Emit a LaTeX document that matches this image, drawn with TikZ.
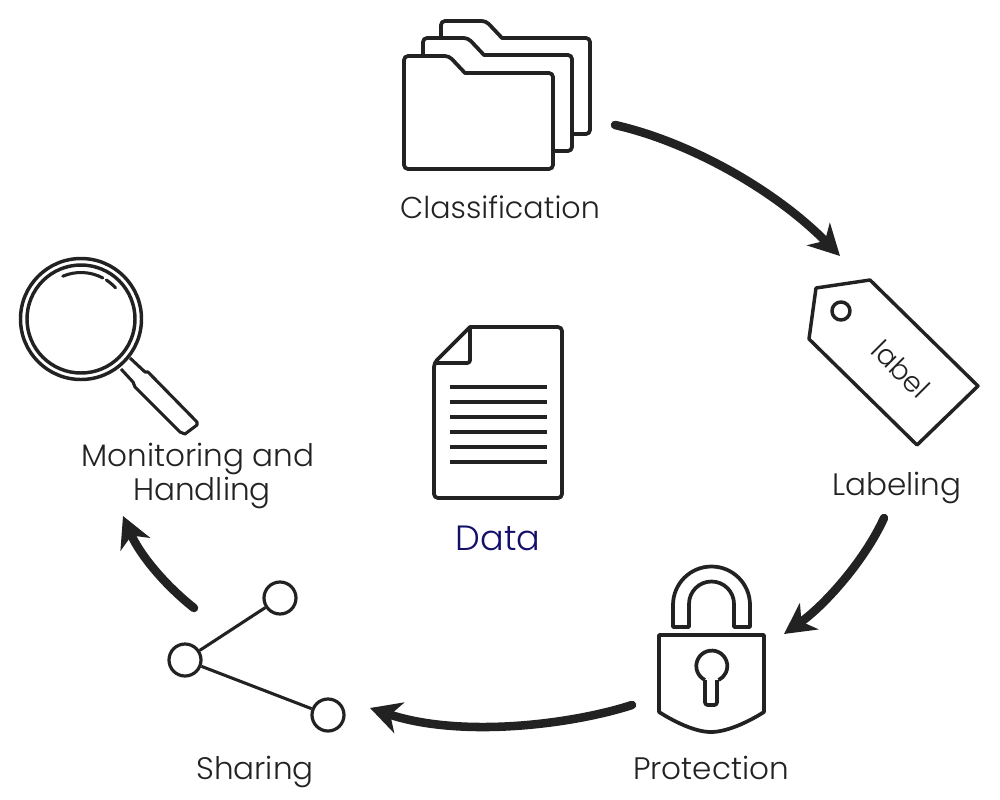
\documentclass[tikz,border=0pt]{standalone}
\usepackage{fontspec}
\setmainfont{Poppins}[UprightFont=* Light]
\usetikzlibrary{arrows.meta}
\definecolor{inkblack}{HTML}{222222}
\definecolor{datablue}{HTML}{14106A}
\tikzset{
  icon/.style={draw=inkblack,line width=2.8pt,line join=round},
  thinicon/.style={draw=inkblack,line width=2.3pt,line join=round},
  stepname/.style={text=inkblack,font=\fontsize{23.3}{26.2}\selectfont,inner sep=0pt,align=center},
  flow/.style={draw=inkblack,line width=6.4pt,line cap=round,-{Stealth[length=23pt,width=24pt,inset=7pt]}},
  sharedot/.style={circle,icon,line width=2.4pt,fill=white,inner sep=0pt,minimum size=24pt}
}

\begin{document}
\begin{tikzpicture}[x=0.75pt,y=-0.75pt]

    \useasboundingbox (0,0) rectangle (1000,800);

    % folders
    \foreach \dx/\dy in {37/-35,19/-18,0/0}{
      \begin{scope}[shift={(\dx,\dy)}]
        \draw[icon,fill=white,rounded corners=3pt]
          (404,169) -- (404,56) -- (449,56) [sharp corners] -- (465,73)
          [rounded corners=3pt] -- (553,73) -- (553,169) -- cycle;
      \end{scope}
    }

    % tag
    \draw[icon,line width=2.6pt]
      (816,288) -- (870,280) -- (978,386) -- (917,445) -- (809,339) -- cycle;
    \draw[icon,line width=2.6pt] (841,311) circle (9);
    \node[rotate=-45,text=inkblack,font=\fontsize{21}{24}\selectfont,inner sep=0pt] (taglabel) at (901,369) {label};

    % lock
    \draw[icon]
      (673,627) -- (673,605) arc[start angle=180,end angle=360,radius=38.5] -- (750,627)
      -- (734,627) -- (734,604) arc[start angle=0,end angle=-180,radius=22.5] -- (689,627) -- cycle;
    \draw[icon]
      (659,635) -- (764,635) -- (764,712) .. controls (745,724) and (725,732) .. (711,732)
      .. controls (697,732) and (678,724) .. (659,712) -- cycle;
    \draw[icon,rounded corners=2pt]
      (705,680) -- (705,705) -- (717,705) -- (717,680);
    \draw[icon]
      (705,680) arc[start angle=116,end angle=424,radius=15.5] ;

    % share
    \node[sharedot] (hub) at (185,660) {};
    \node[sharedot] (top) at (280,598) {};
    \node[sharedot] (low) at (328,715) {};
    \draw[thinicon] (hub) -- (top);
    \draw[thinicon] (hub) -- (low);

    % magnifier
    \draw[icon,line width=2.6pt] (81,319) circle (60.5);
    \draw[icon,line width=2.6pt] (81,319) circle (54);
    \draw[thinicon,line cap=round] (81,319) ++(-113:46.5) arc[start angle=-113,end angle=-62,radius=46.5];
    \draw[thinicon,line cap=round] (81,319) ++(-57:46.5) arc[start angle=-57,end angle=-42,radius=46.5];
    \draw[thinicon]
      (130,358) -- (145,372) -- (148,372) -- (197,422) -- (197,425) -- (185,434) -- (180,432)
      -- (135,387) -- (133,382) -- (121,369);

    % document
    \draw[icon,rounded corners=3pt]
      (434,363) [sharp corners] -- (470,327) [rounded corners=3pt] -- (562,327) -- (562,498) -- (434,498) -- cycle;
    \draw[icon,rounded corners=2pt]
      (470,327) -- (470,363) -- (434,363);
    \foreach \ly in {387,402,417,432,447,462}{
      \draw[icon,line width=2.4pt] (450,\ly) -- (547,\ly);
    }

    % labels
    \node[stepname,font=\fontsize{22.6}{26}\selectfont] (classification) at (500,207) {Classification};
    \node[stepname] (labeling) at (897,488) {Labeling};
    \node[stepname] (protection) at (711,768) {Protection};
    \node[stepname] (sharing) at (255,772) {Sharing};
    \node[stepname] (monitoring) at (198,476) {Monitoring and\\\hspace{6pt}Handling};
    \node[text=datablue,font=\fontsize{26.3}{30}\selectfont,inner sep=0pt] (data) at (498,538) {Data};

    % arrows
    \coordinate (classout) at (615,125);
    \coordinate (labelin) at (840,256);
    \coordinate (labelout) at (884,518);
    \coordinate (lockin) at (784,634);
    \coordinate (lockout) at (632,705);
    \coordinate (sharein) at (370,708);
    \coordinate (shareout) at (194,608);
    \coordinate (monitorin) at (123,516);
    \draw[flow] (classout) .. controls (690,142) and (775,190) .. (labelin);
    \draw[flow] (labelout) .. controls (865,560) and (825,605) .. (lockin);
    \draw[flow] (lockout) .. controls (570,725) and (460,738) .. (sharein);
    \draw[flow] (shareout) .. controls (165,585) and (140,555) .. (monitorin);

\end{tikzpicture}
\end{document}
